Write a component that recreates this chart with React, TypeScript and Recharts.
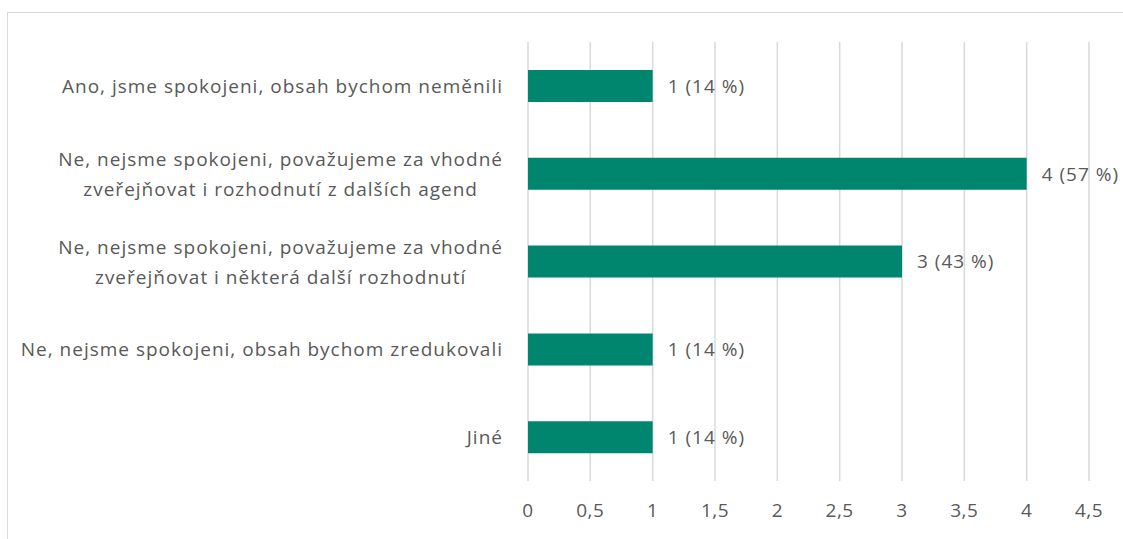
import React from "react";
import { BarChart, Bar, XAxis, YAxis, CartesianGrid, LabelList } from "recharts";

const categories: string[] = [
  "Ano, jsme spokojeni, obsah bychom neměnili",
  "Ne, nejsme spokojeni, považujeme za vhodné\nzveřejňovat i rozhodnutí z dalších agend",
  "Ne, nejsme spokojeni, považujeme za vhodné\nzveřejňovat i některá další rozhodnutí",
  "Ne, nejsme spokojeni, obsah bychom zredukovali",
  "Jiné",
];
const counts: number[] = [1, 4, 3, 1, 1];
const percents: number[] = [14, 57, 43, 14, 14];
const xTicks: number[] = [0, 0.5, 1, 1.5, 2, 2.5, 3, 3.5, 4, 4.5];

const data = categories.map((c, i) => ({
  name: c,
  value: counts[i],
  label: `${counts[i]} (${percents[i]} %)`,
}));

const FONT = "'Open Sans', 'Noto Sans', sans-serif";
const FS = 19;
const LS = 1;
const TEXT = "#595959";

let ctx: CanvasRenderingContext2D | null = null;
function measure(t: string): number {
  if (!ctx) {
    const c = document.createElement("canvas");
    ctx = c.getContext("2d");
  }
  if (!ctx) return t.length * 10.5;
  ctx.font = `${FS}px 'Open Sans'`;
  return ctx.measureText(t).width + Array.from(t).length * LS;
}

const CatTick = (props: any) => {
  const { x, y, payload } = props;
  const lines: string[] = String(payload.value).split("\n");
  const right = x - 18 + LS;
  const lh = 30;
  if (lines.length === 1) {
    return (
      <text x={right} y={y} textAnchor="end" dominantBaseline="central" fill={TEXT} fontSize={FS} fontFamily={FONT} letterSpacing={LS}>
        {lines[0]}
      </text>
    );
  }
  const maxW = Math.max(...lines.map(measure));
  const cx = right - maxW / 2;
  const start = y - ((lines.length - 1) * lh) / 2;
  return (
    <text textAnchor="middle" fill={TEXT} fontSize={FS} fontFamily={FONT} letterSpacing={LS}>
      {lines.map((l, i) => (
        <tspan key={i} x={cx} y={start + i * lh} dominantBaseline="central">
          {l}
        </tspan>
      ))}
    </text>
  );
};

export default function App() {
  return (
    <div style={{ position: "absolute", left: 0, top: 0, width: 1123, height: 539, background: "#fff", overflow: "hidden" }}>
      <div
        style={{
          position: "absolute",
          left: 7,
          top: 12,
          width: 1140,
          height: 560,
          border: "1.5px solid #d9d9d9",
          boxSizing: "border-box",
        }}
      />
      <div style={{ position: "absolute", left: 0, top: 0 }}>
        <BarChart
          width={1123}
          height={539}
          data={data}
          layout="vertical"
          margin={{ top: 42, right: 34, bottom: 0, left: 0 }}
          barSize={32}
        >
          <CartesianGrid horizontal={false} stroke="#d9d9d9" strokeWidth={1.5} />
          <XAxis
            type="number"
            domain={[0, 4.5]}
            ticks={xTicks}
            height={58}
            axisLine={false}
            tickLine={false}
            tickMargin={17}
            interval={0}
            tickFormatter={(v: number) => String(v).replace(".", ",")}
            tick={{ fill: TEXT, fontSize: FS, fontFamily: FONT, letterSpacing: 0.5 }}
          />
          <YAxis
            type="category"
            dataKey="name"
            width={528}
            axisLine={false}
            tickLine={false}
            interval={0}
            tick={<CatTick />}
          />
          <Bar dataKey="value" fill="#00856F" isAnimationActive={false}>
            <LabelList
              dataKey="label"
              position="right"
              offset={15}
              fill={TEXT}
              fontSize={FS}
              fontFamily={FONT}
              letterSpacing={LS}
            />
          </Bar>
        </BarChart>
      </div>
    </div>
  );
}
